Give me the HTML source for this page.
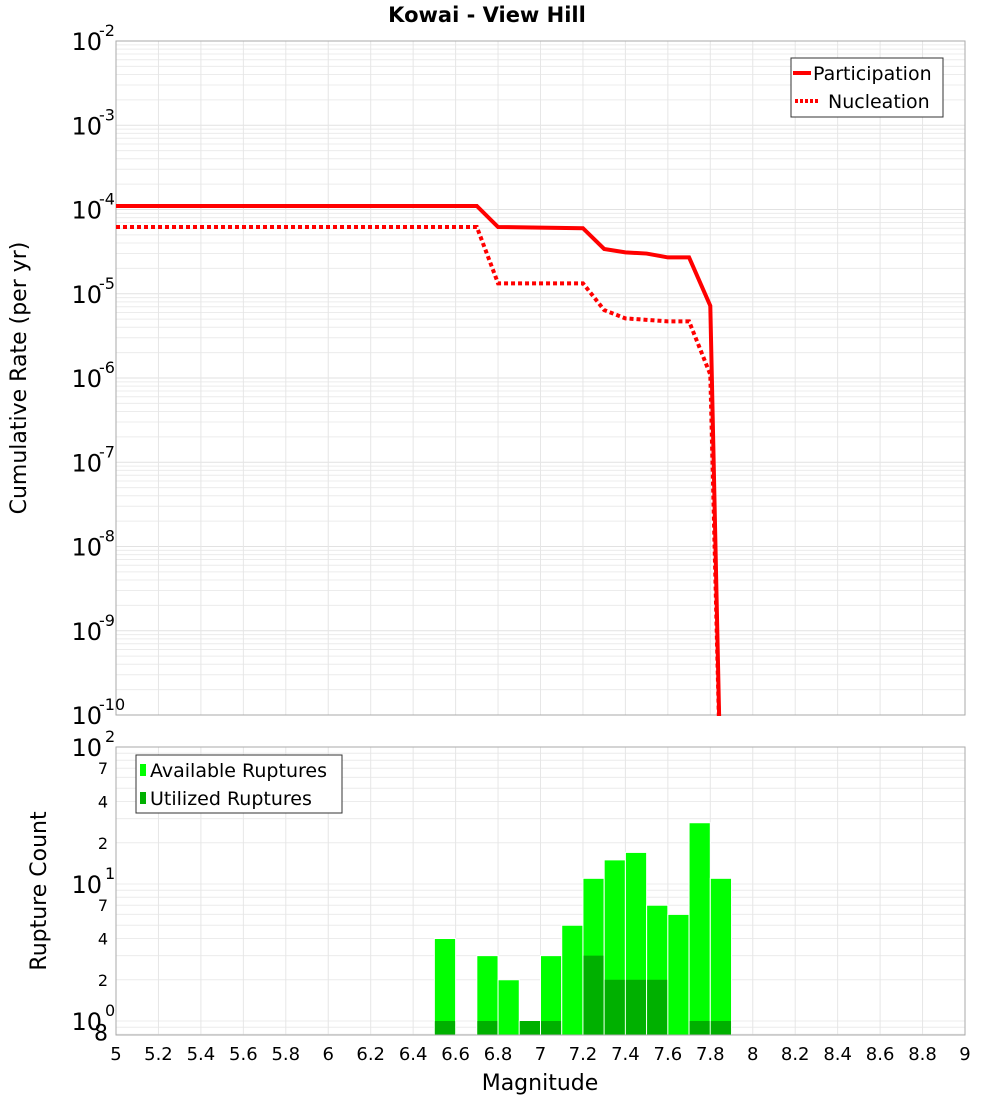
<!DOCTYPE html>
<html><head><meta charset="utf-8"><style>
html,body{margin:0;padding:0;background:#fff;}
svg{display:block;font-family:"DejaVu Sans","Liberation Sans",sans-serif;}
</style></head><body>
<svg id="chart" width="1000" height="1100" xmlns="http://www.w3.org/2000/svg">
<text x="487" y="22" text-anchor="middle" font-size="21" font-weight="bold">Kowai - View Hill</text>
<g id="topG"></g>
<g id="botG"></g>
<text transform="translate(26,378) rotate(-90)" text-anchor="middle" font-size="22">Cumulative Rate (per yr)</text>
<text transform="translate(46,891) rotate(-90)" text-anchor="middle" font-size="22">Rupture Count</text>
<text x="540" y="1090" text-anchor="middle" font-size="22">Magnitude</text>
</svg>
<script>
const partMags=[5,6.7,6.8,7.0,7.2,7.3,7.4,7.5,7.6,7.7,7.8,7.85];
const partRates=[1.1e-4,1.1e-4,6.2e-5,6.1e-5,6.0e-5,3.4e-5,3.1e-5,3.0e-5,2.7e-5,2.7e-5,7.2e-6,1e-11];
const nuclMags=[5,6.7,6.8,7.0,7.2,7.3,7.4,7.5,7.6,7.7,7.8,7.85];
const nuclRates=[6.2e-5,6.2e-5,1.33e-5,1.33e-5,1.33e-5,6.4e-6,5.1e-6,4.9e-6,4.7e-6,4.7e-6,1.1e-6,1e-11];
const binMags=[6.55,6.75,6.85,6.95,7.05,7.15,7.25,7.35,7.45,7.55,7.65,7.75,7.85];
const availCounts=[4,3,2,1,3,5,11,15,17,7,6,28,11];
const usedCounts=[1,1,0,1,1,0,3,2,2,2,0,1,1];
const xTicks=[5,5.2,5.4,5.6,5.8,6,6.2,6.4,6.6,6.8,7,7.2,7.4,7.6,7.8,8,8.2,8.4,8.6,8.8,9];
const xTickLabels=["5","5.2","5.4","5.6","5.8","6","6.2","6.4","6.6","6.8","7","7.2","7.4","7.6","7.8","8","8.2","8.4","8.6","8.8","9"];
const topExps=[-2,-3,-4,-5,-6,-7,-8,-9,-10];
const botMinorLabels=[[70,"7"],[40,"4"],[20,"2"],[7,"7"],[4,"4"],[2,"2"],[0.8,"8"]];

const NS="http://www.w3.org/2000/svg";
const X0=116,X1=965;
const xs=m=>X0+(m-5)/4*(X1-X0);
const TY0=41,TY1=715;
const ty=v=>TY0+(-2-Math.log10(v))/8*(TY1-TY0);
const BY0=747,BY1=1035,BDEC=137;
const by=v=>1021-Math.log10(v)*BDEC;
function el(p,tag,a){const e=document.createElementNS(NS,tag);for(const k in a)e.setAttribute(k,a[k]);p.appendChild(e);return e;}
const topG=document.getElementById('topG'),botG=document.getElementById('botG');

for(let d=-10;d<-2;d++){for(let k=1;k<10;k++){const v=k*Math.pow(10,d);const y=ty(v);
 const l=el(topG,'line',{x1:X0,x2:X1,y1:y,y2:y,stroke:k==1?'#e2e2e2':'#ececec','stroke-width':1});
 
 }}
xTicks.forEach(m=>{const l=el(topG,'line',{x1:xs(m),x2:xs(m),y1:TY0,y2:TY1,stroke:'#e6e6e6'});
 
 });
const tb=el(topG,'rect',{x:X0,y:TY0,width:X1-X0,height:TY1-TY0,fill:'none',stroke:'#aaa'});


topExps.forEach(e=>{const y=ty(Math.pow(10,e));const t=el(topG,'text',{x:102,y:y+9,'text-anchor':'end','font-size':24});
 t.textContent='10';
 
 
 const s=el(topG,'text',{x:99,y:y-5,'font-size':16});s.textContent=String(e);
 
 });
const clip=el(topG,'clipPath',{id:'tc'});el(clip,'rect',{x:X0,y:TY0,width:X1-X0,height:TY1-TY0+1});
const pp=el(topG,'polyline',{points:partMags.map((m,i)=>xs(m)+','+ty(partRates[i])).join(' '),fill:'none',stroke:'#ff0000','stroke-width':4,'clip-path':'url(#tc)'});


const np=el(topG,'polyline',{points:nuclMags.map((m,i)=>xs(m)+','+ty(nuclRates[i])).join(' '),fill:'none',stroke:'#ff0000','stroke-width':4,'stroke-dasharray':'4 3','clip-path':'url(#tc)'});


const lg=el(topG,'g',{});


el(lg,'rect',{x:791,y:58,width:152,height:59,fill:'#fff',stroke:'#333'});
el(lg,'line',{x1:793,x2:811,y1:73,y2:73,stroke:'#f00','stroke-width':4});
el(lg,'line',{x1:795,x2:820,y1:101,y2:101,stroke:'#f00','stroke-width':4,'stroke-dasharray':'3 2'});
let t=el(lg,'text',{x:813,y:80,'font-size':19});t.textContent='Participation';
t=el(lg,'text',{x:828,y:108,'font-size':19});t.textContent='Nucleation';

for(let d=-1;d<2;d++){for(let k=1;k<10;k++){const v=k*Math.pow(10,d);const y=by(v);if(y>BY1||y<BY0)continue;
 const l=el(botG,'line',{x1:X0,x2:X1,y1:y,y2:y,stroke:'#ececec'});
 
 }}
xTicks.forEach(m=>{const l=el(botG,'line',{x1:xs(m),x2:xs(m),y1:BY0,y2:BY1,stroke:'#e6e6e6'});
 
 });
binMags.forEach((m,i)=>{const xl=xs(m-0.05),xr=xs(m+0.05);
 const a=el(botG,'rect',{x:xl,y:by(availCounts[i]),width:xr-xl,height:BY1-by(availCounts[i]),fill:'#00ff00',stroke:'#fff','stroke-width':1});
 
 
 if(usedCounts[i]>0){const u=el(botG,'rect',{x:xl+0.5,y:by(usedCounts[i]),width:xr-xl-1,height:BY1-by(usedCounts[i]),fill:'#00b000'});
 
 }});
const bb=el(botG,'rect',{x:X0,y:BY0,width:X1-X0,height:BY1-BY0,fill:'none',stroke:'#aaa'});


[2,1,0].forEach(e=>{const y=by(Math.pow(10,e));const t=el(botG,'text',{x:102,y:y+9,'text-anchor':'end','font-size':24});
 t.textContent='10';
 
 
 const s=el(botG,'text',{x:105,y:y-5,'font-size':16});s.textContent=String(e);
 
 });
botMinorLabels.forEach(([v,s])=>{const t=el(botG,'text',{x:108,y:by(v)+6,'text-anchor':'end','font-size':s=="8"?22:16});
 t.textContent=s;
 
 });
xTicks.forEach((m,i)=>{const t=el(botG,'text',{x:xs(m),y:1060,'text-anchor':'middle','font-size':18});
 t.textContent=xTickLabels[i];
 
 });
const bl=el(botG,'g',{});


el(bl,'rect',{x:136,y:755,width:206,height:58,fill:'#fff',stroke:'#333'});
el(bl,'rect',{x:140,y:764,width:6,height:12,fill:'#00ff00'});
el(bl,'rect',{x:140,y:792,width:6,height:12,fill:'#00b000'});
t=el(bl,'text',{x:150,y:777,'font-size':19});t.textContent='Available Ruptures';
t=el(bl,'text',{x:150,y:805,'font-size':19});t.textContent='Utilized Ruptures';
</script>
</body></html>
